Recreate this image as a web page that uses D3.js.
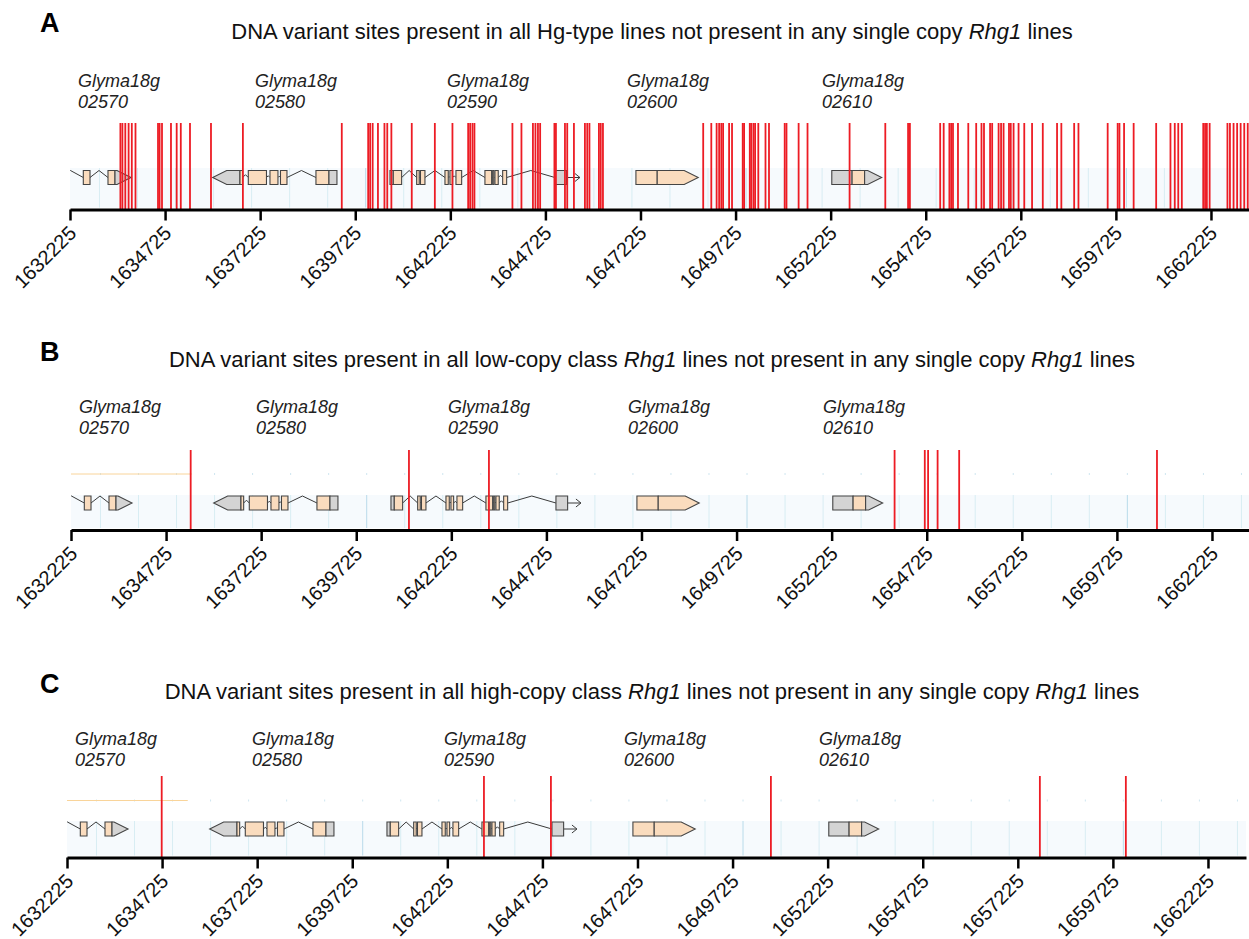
<!DOCTYPE html>
<html>
<head>
<meta charset="utf-8">
<script src="https://cdn.jsdelivr.net/npm/d3@7"></script>
<style>
  body { margin: 0; background: #fff; }
  svg { display: block; font-family: "Liberation Sans", Arial, Helvetica, sans-serif; }
  text { white-space: pre; }
</style>
</head>
<body>
<svg id="chart" width="1249" height="939"></svg>
<script>
// Rhg1 locus: variant sites (red) over gene models, three comparisons A/B/C.
// Coordinates are bp on Gm18.

const VIEW = [1632225, 1663225];
const tickVals = [1632225, 1634725, 1637225, 1639725, 1642225, 1644725, 1647225,
  1649725, 1652225, 1654725, 1657225, 1659725, 1662225];

const panelLetters = ["A", "B", "C"];
const titleParts = [
  [["DNA variant sites present in all Hg-type lines not present in any single copy ", 0], ["Rhg1", 1], [" lines", 0]],
  [["DNA variant sites present in all low-copy class ", 0], ["Rhg1", 1], [" lines not present in any single copy ", 0], ["Rhg1", 1], [" lines", 0]],
  [["DNA variant sites present in all high-copy class ", 0], ["Rhg1", 1], [" lines not present in any single copy ", 0], ["Rhg1", 1], [" lines", 0]],
];

// gene models: exons as lists of [start, end, kind] (c = coding, u = UTR)
const geneIds = ["02570", "02580", "02590", "02600", "02610"];
const geneLabelAt = [1632435, 1637089, 1642136, 1646869, 1651995];
const geneStrand = [1, -1, 1, 1, 1];
const geneTail = [null, null, 1645633, null, null];
const geneExons = [
  [ [[1631600, 1631900, "c"]],
    [[1632575, 1632751, "c"]],
    [[1633224, 1633408, "c"], [1633408, 1633829, "u"]] ],
  [ [[1635977, 1636694, "u"], [1636694, 1636765, "c"]],
    [[1636913, 1637391, "c"]],
    [[1637483, 1637693, "c"]],
    [[1637759, 1637930, "c"]],
    [[1638692, 1639034, "c"], [1639034, 1639244, "u"]] ],
  [ [[1640638, 1640725, "u"], [1640725, 1640945, "c"]],
    [[1641340, 1641408, "c"]],
    [[1641440, 1641558, "c"]],
    [[1642084, 1642171, "c"]],
    [[1642215, 1642286, "c"]],
    [[1642373, 1642523, "c"]],
    [[1643135, 1643311, "c"]],
    [[1643338, 1643372, "c"]],
    [[1643398, 1643485, "c"]],
    [[1643601, 1643706, "c"]],
    [[1644976, 1645283, "u"]] ],
  [ [[1647105, 1647665, "c"], [1647665, 1648743, "c"]] ],
  [ [[1652255, 1652789, "u"], [1652789, 1653118, "c"], [1653118, 1653567, "u"]] ],
];

// orange feature span shown in the upper track of B and C
const featureSpan = [1632225, 1635400];

const variantsA = [1633550, 1633603, 1633679, 1633766, 1633850, 1633947, 1634539, 1634581,
  1634644, 1634880, 1635030, 1635138, 1635380, 1635932, 1636771, 1639371, 1640065, 1640117,
  1640183, 1640322, 1640493, 1640567, 1640675, 1641211, 1641818, 1642281, 1642694, 1642746,
  1642807, 1642859, 1643858, 1644095, 1644397, 1644463, 1644529, 1644587, 1644962, 1645002,
  1645239, 1645299, 1645475, 1645764, 1645825, 1645883, 1646132, 1646180, 1646238, 1648874,
  1649087, 1649227, 1649293, 1649350, 1649398, 1649555, 1649632, 1649913, 1649950, 1650099,
  1650136, 1650194, 1650239, 1650323, 1650512, 1650604, 1651017, 1651064, 1651383, 1651617,
  1652723, 1653662, 1654261, 1654309, 1655105, 1655197, 1655347, 1655394, 1655442, 1655573,
  1655844, 1656052, 1656191, 1656257, 1656417, 1656472, 1656641, 1656706, 1656772, 1656914,
  1656961, 1657035, 1657166, 1657316, 1657521, 1657803, 1658178, 1658291, 1658628, 1658741,
  1659509, 1659772, 1659819, 1659940, 1660192, 1660784, 1661160, 1661273, 1661365, 1661459,
  1662022, 1662070, 1662117, 1662190, 1662658, 1662724, 1662819, 1662913, 1663005, 1663100,
  1663192];
const variantsB = [1635372, 1641111, 1643214, 1653880, 1654674, 1654761, 1655011, 1655578, 1660779];
const variantsC = [1634715, 1643188, 1644949, 1650733, 1657805, 1660066];

const TAN = "#fadcbe", GREY = "#d4d4d4", RED = "#ed1c24";
const H = 7; // half height of exon boxes

const panels = [
  { x0: 70, titleY: 39, letterY: 32, labelY: 87, redTop: 123, featY: null, geneY: 177.5, bandTop: 168, axisY: 209.5, variants: variantsA },
  { x0: 71, titleY: 367, letterY: 361, labelY: 413, redTop: 450, featY: 474, geneY: 503, bandTop: 495, axisY: 530, variants: variantsB },
  { x0: 67, titleY: 699, letterY: 693, labelY: 745, redTop: 776, featY: 800.5, geneY: 829, bandTop: 821, axisY: 857.5, variants: variantsC },
];

const svg = d3.select("#chart");
const defs = svg.append("defs");

panels.forEach((p, pi) => {
  const x = d3.scaleLinear().domain(VIEW).range([p.x0, p.x0 + 1179]);
  const g = svg.append("g");

  defs.append("clipPath").attr("id", "clip" + pi)
    .append("rect").attr("x", p.x0).attr("y", 0).attr("width", 1179).attr("height", 939);

  // letter + title
  g.append("text").attr("x", 40).attr("y", p.letterY)
    .attr("font-size", 27).attr("font-weight", "bold").text(panelLetters[pi]);
  const t = g.append("text").attr("x", 652).attr("y", p.titleY)
    .attr("text-anchor", "middle").attr("font-size", 22).attr("fill", "#111");
  titleParts[pi].forEach(([s, it]) => t.append("tspan").attr("font-style", it ? "italic" : null).text(s));

  // gene labels
  geneIds.forEach((id, i) => {
    const lt = g.append("text").attr("font-size", 18).attr("font-style", "italic").attr("fill", "#222");
    lt.append("tspan").attr("x", x(geneLabelAt[i])).attr("y", p.labelY).text("Glyma18g");
    lt.append("tspan").attr("x", x(geneLabelAt[i])).attr("y", p.labelY + 21).text(id);
  });

  const track = g.append("g").attr("clip-path", `url(#clip${pi})`);

  // light track background + kb grid
  track.append("rect").attr("x", p.x0).attr("y", p.bandTop)
    .attr("width", 1179).attr("height", p.axisY - 2 - p.bandTop).attr("fill", "#f6fafd");
  const grid = d3.range(1633000, VIEW[1], 1000);
  track.selectAll("line.grid").data(grid).join("line")
    .attr("class", "grid")
    .attr("x1", d => x(d)).attr("x2", d => x(d))
    .attr("y1", p.bandTop).attr("y2", p.axisY - 2)
    .attr("stroke", d => d % 10000 === 0 ? "#b9dbea" : "#d8edf3").attr("stroke-width", 1);

  if (p.featY != null) {
    track.selectAll("line.dot").data(grid).join("line")
      .attr("class", "dot")
      .attr("x1", d => x(d)).attr("x2", d => x(d))
      .attr("y1", p.featY - 1).attr("y2", p.featY + 1)
      .attr("stroke", "#cfe6f0").attr("stroke-width", 1);
    track.append("line")
      .attr("x1", x(featureSpan[0])).attr("x2", x(featureSpan[1]))
      .attr("y1", p.featY).attr("y2", p.featY)
      .attr("stroke", "#f9d49a").attr("stroke-width", 1);
  }

  // genes
  const cy = p.geneY;
  geneExons.forEach((exons, gi) => {
    const strand = geneStrand[gi];
    const blocks = exons.map(ex => [x(ex[0][0]), x(ex[ex.length - 1][1])]);

    for (let k = 0; k < blocks.length - 1; k++) {
      const a = blocks[k][1], b = blocks[k + 1][0];
      const hh = Math.min(7, (b - a) / 2);
      track.append("path")
        .attr("d", `M${a},${cy}L${(a + b) / 2},${cy - hh}L${b},${cy}`)
        .attr("fill", "none").attr("stroke", "#3a3a3a").attr("stroke-width", 1);
    }

    if (geneTail[gi] != null) {
      const a = blocks[blocks.length - 1][1], b = x(geneTail[gi]);
      track.append("path")
        .attr("d", `M${a},${cy}H${b}M${b - 5},${cy - 4}L${b},${cy}L${b - 5},${cy + 4}`)
        .attr("fill", "none").attr("stroke", "#3a3a3a").attr("stroke-width", 1);
    }

    exons.forEach((ex, k) => {
      const arrow = geneTail[gi] == null &&
        ((strand > 0 && k === exons.length - 1) || (strand < 0 && k === 0));
      const [xs, xe] = blocks[k];
      const T = Math.min(14, xe - xs);
      const knee = strand > 0 ? xe - T : xs + T;
      const hAt = v => !arrow ? H
        : strand > 0 ? (v <= knee ? H : H * (xe - v) / T)
        : (v >= knee ? H : H * (v - xs) / T);
      ex.forEach(([s, e, kind]) => {
        const a = x(s), b = x(e);
        const xsList = [a];
        if (arrow && knee > a && knee < b) xsList.push(knee);
        xsList.push(b);
        const pts = xsList.map(v => [v, cy - hAt(v)])
          .concat(xsList.slice().reverse().map(v => [v, cy + hAt(v)]));
        track.append("polygon")
          .attr("points", pts.map(q => q.join(",")).join(" "))
          .attr("fill", kind === "c" ? TAN : GREY)
          .attr("stroke", "#444").attr("stroke-width", 1.1);
      });
    });
  });

  // variant sites
  track.selectAll("line.var").data(p.variants).join("line")
    .attr("class", "var")
    .attr("x1", d => x(d)).attr("x2", d => x(d))
    .attr("y1", p.redTop).attr("y2", p.axisY)
    .attr("stroke", RED).attr("stroke-width", 1.8);

  // axis
  const ax = d3.axisBottom(x).tickValues(tickVals).tickSize(11).tickSizeOuter(0)
    .tickFormat(d3.format("d"));
  const axg = g.append("g").attr("transform", `translate(0,${p.axisY})`).call(ax)
    .attr("font-family", "'Liberation Sans', Arial, sans-serif").attr("font-size", 20);
  axg.select(".domain").attr("stroke", "#000").attr("stroke-width", 3);
  axg.selectAll(".tick line").attr("stroke", "#000").attr("stroke-width", 2.5);
  axg.selectAll(".tick text")
    .attr("x", 0).attr("y", 0).attr("dy", null)
    .attr("transform", "translate(7,25) rotate(-45)")
    .attr("text-anchor", "end").attr("fill", "#111");
});
</script>
</body>
</html>
